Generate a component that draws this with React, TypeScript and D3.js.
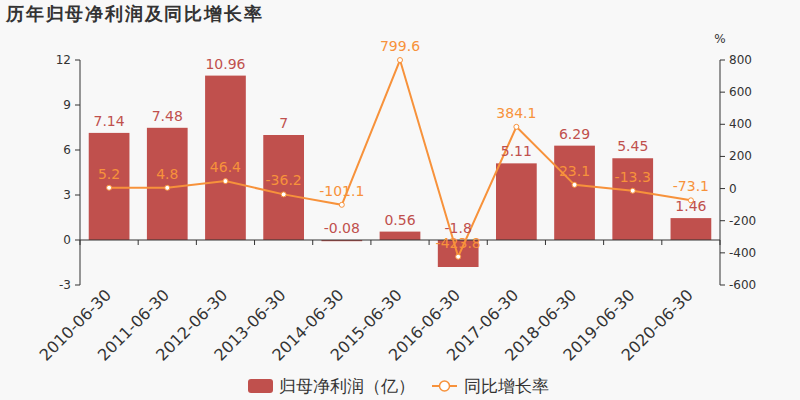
import { useEffect, useRef } from 'react';
import * as d3 from 'd3';

// 历年归母净利润及同比增长率
const periods = [
  '2010-06-30', '2011-06-30', '2012-06-30', '2013-06-30', '2014-06-30', '2015-06-30',
  '2016-06-30', '2017-06-30', '2018-06-30', '2019-06-30', '2020-06-30',
];
const netProfit = [7.14, 7.48, 10.96, 7, -0.08, 0.56, -1.8, 5.11, 6.29, 5.45, 1.46];
const growthRate = [5.2, 4.8, 46.4, -36.2, -101.1, 799.6, -423.8, 384.1, 23.1, -13.3, -73.1];
const leftTicks = [-3, 0, 3, 6, 9, 12];
const rightTicks = [-600, -400, -200, 0, 200, 400, 600, 800];

const BAR = '#c0504d';
const LINE = '#f7923b';
const AXIS = '#333';
const FONT = '"DejaVu Sans", sans-serif';

export default function App() {
  const svgRef = useRef<SVGSVGElement>(null);

  useEffect(() => {
    if (!svgRef.current) return;
    const svg = d3.select(svgRef.current);
    svg.selectAll('*').remove();

    const left = 80, right = 720, top = 60, bottom = 285;

    // 1. Échelles
    const x = d3.scaleBand<string>().domain(periods).range([left, right]).paddingInner(0.3).paddingOuter(0.15);
    const xc = (d: string) => (x(d) ?? 0) + x.bandwidth() / 2;
    const yL = d3.scaleLinear().domain([-3, 12]).range([bottom, top]);
    const yR = d3.scaleLinear().domain([-600, 800]).range([bottom, top]);
    const step = (right - left) / periods.length;

    svg.append('rect').attr('width', 800).attr('height', 400).attr('fill', '#f8f8f8');

    // 2. Titre
    svg.append('text')
      .attr('x', 6).attr('y', 20)
      .attr('font-size', 18).attr('font-weight', 'bold')
      .attr('letter-spacing', 1.8)
      .attr('fill', '#333')
      .attr('font-family', FONT)
      .text('历年归母净利润及同比增长率');

    // 3. Barres
    svg.append('g').selectAll('rect')
      .data(netProfit)
      .enter().append('rect')
      .attr('x', (_, i) => x(periods[i]) ?? 0)
      .attr('width', x.bandwidth())
      .attr('y', d => yL(Math.max(0, d)))
      .attr('height', d => Math.abs(yL(d) - yL(0)))
      .attr('fill', BAR);

    // 4. Axes
    const axisG = svg.append('g').attr('font-family', FONT).attr('font-size', 12).attr('fill', AXIS);
    axisG.append('line').attr('x1', left).attr('x2', left).attr('y1', top).attr('y2', bottom).attr('stroke', AXIS);
    leftTicks.forEach(t => {
      axisG.append('line').attr('x1', left - 5).attr('x2', left).attr('y1', yL(t)).attr('y2', yL(t)).attr('stroke', AXIS);
      axisG.append('text').attr('x', left - 9).attr('y', yL(t) + 4).attr('text-anchor', 'end').text(t);
    });
    axisG.append('line').attr('x1', right).attr('x2', right).attr('y1', top).attr('y2', bottom).attr('stroke', AXIS);
    rightTicks.forEach(t => {
      axisG.append('line').attr('x1', right).attr('x2', right + 5).attr('y1', yR(t)).attr('y2', yR(t)).attr('stroke', AXIS);
      axisG.append('text').attr('x', right + 9).attr('y', yR(t) + 4).text(t);
    });
    axisG.append('text').attr('x', right).attr('y', 43).attr('text-anchor', 'middle').text('%');

    axisG.append('line').attr('x1', left).attr('x2', right).attr('y1', yL(0)).attr('y2', yL(0)).attr('stroke', AXIS);
    d3.range(periods.length + 1).forEach(k => {
      const px = left + k * step;
      axisG.append('line').attr('x1', px).attr('x2', px).attr('y1', yL(0)).attr('y2', yL(0) + 5).attr('stroke', AXIS);
    });
    periods.forEach(p => {
      axisG.append('text')
        .attr('transform', `translate(${xc(p) + 3},${bottom + 11}) rotate(-45)`)
        .attr('text-anchor', 'end')
        .attr('font-size', 16)
        .text(p);
    });

    // 5. Courbe
    const line = d3.line<number>()
      .x((_, i) => xc(periods[i]))
      .y(d => yR(d));
    svg.append('path')
      .datum(growthRate)
      .attr('fill', 'none')
      .attr('stroke', LINE)
      .attr('stroke-width', 2)
      .attr('d', line);
    svg.append('g').selectAll('circle')
      .data(growthRate)
      .enter().append('circle')
      .attr('cx', (_, i) => xc(periods[i]))
      .attr('cy', d => yR(d))
      .attr('r', 2.5)
      .attr('fill', '#fff')
      .attr('stroke', LINE)
      .attr('stroke-width', 1);

    // 6. Étiquettes
    const labels = svg.append('g').attr('font-family', FONT).attr('font-size', 14).attr('text-anchor', 'middle');
    netProfit.forEach((v, i) => {
      labels.append('text')
        .attr('x', xc(periods[i]))
        .attr('y', yL(Math.max(0, v)) - 7)
        .attr('fill', BAR)
        .text(v);
    });
    growthRate.forEach((v, i) => {
      labels.append('text')
        .attr('x', xc(periods[i]))
        .attr('y', yR(v) - 9)
        .attr('fill', LINE)
        .text(v);
    });

    // 7. Légende
    const lg = svg.append('g').attr('font-family', FONT).attr('font-size', 17).attr('fill', '#333');
    lg.append('rect').attr('x', 248).attr('y', 379).attr('width', 25).attr('height', 14).attr('rx', 3).attr('fill', BAR);
    lg.append('text').attr('x', 279).attr('y', 392).text('归母净利润（亿）');
    lg.append('line').attr('x1', 432).attr('x2', 457).attr('y1', 386).attr('y2', 386).attr('stroke', LINE).attr('stroke-width', 2);
    lg.append('circle').attr('cx', 444.5).attr('cy', 386).attr('r', 5).attr('fill', '#fff').attr('stroke', LINE).attr('stroke-width', 1.5);
    lg.append('text').attr('x', 464).attr('y', 392).text('同比增长率');
  }, []);

  return (
    <div style={{ position: 'fixed', left: 0, top: 0 }}>
      <svg ref={svgRef} width={800} height={400} style={{ display: 'block' }} />
    </div>
  );
}
